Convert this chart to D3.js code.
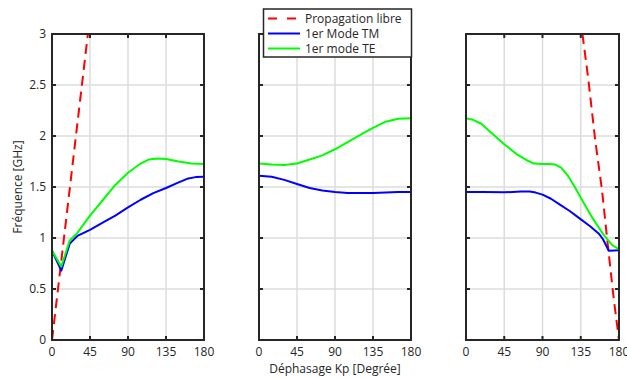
<!DOCTYPE html>
<html><head><meta charset="utf-8">
<script src="https://cdn.jsdelivr.net/npm/d3@7"></script>
<style>body{margin:0;background:#fff}svg{display:block}text{font-family:"Open Sans",sans-serif;fill:#262626}</style>
</head><body>
<script>
const xTicks = [0, 45, 90, 135, 180];
const yTicks = [0, 0.5, 1, 1.5, 2, 2.5, 3];
const seriesNames = ["Propagation libre", "1er Mode TM", "1er mode TE"];
const seriesColors = ["#ff0000", "#0000ff", "#00ff00"];

// Panel 1
const p1Free = [[0,0],[42.5,3]];
const p1TM = [[0,0.875],[11,0.68],[21,0.945],[30,1.02],[45,1.08],[60,1.15],[75,1.22],[90,1.30],[105,1.375],[120,1.44],[135,1.49],[150,1.545],[160,1.58],[170,1.597],[180,1.60]];
const p1TE = [[0,0.875],[11,0.72],[21,0.975],[30,1.05],[45,1.22],[60,1.37],[75,1.52],[90,1.64],[105,1.73],[115,1.77],[125,1.78],[135,1.775],[150,1.75],[165,1.73],[180,1.725]];
// Panel 2
const p2TM = [[0,1.61],[15,1.60],[30,1.57],[45,1.53],[60,1.49],[75,1.465],[90,1.45],[105,1.44],[120,1.44],[135,1.44],[150,1.445],[165,1.45],[180,1.45]];
const p2TE = [[0,1.73],[15,1.72],[30,1.715],[45,1.73],[60,1.77],[75,1.81],[90,1.87],[105,1.94],[120,2.01],[135,2.08],[150,2.14],[165,2.17],[180,2.175]];
// Panel 3
const p3Free = [[137,3],[144,2.55],[152,1.96],[160,1.47],[166.6,0.95],[173.6,0.42],[180,0]];
const p3TM = [[0,1.45],[20,1.45],[45,1.448],[65,1.455],[75,1.455],[82,1.445],[90,1.425],[100,1.385],[110,1.33],[122,1.265],[134,1.19],[146,1.115],[156,1.045],[161,0.99],[168,0.875],[175,0.878],[180,0.88]];
const p3TE = [[0,2.175],[8,2.16],[18,2.12],[30,2.03],[45,1.92],[60,1.82],[72,1.76],[80,1.73],[90,1.725],[98,1.725],[105,1.72],[112,1.69],[120,1.61],[128,1.50],[136,1.38],[150,1.18],[162,1.03],[172,0.93],[180,0.89]];

const panels = [
  {x0:52, x1:204, free:p1Free, tm:p1TM, te:p1TE, ylabels:true},
  {x0:259, x1:411, free:null, tm:p2TM, te:p2TE, ylabels:false},
  {x0:466, x1:619, free:p3Free, tm:p3TM, te:p3TE, ylabels:false}
];
const W = 627, H = 378, yTop = 34, yBot = 340;
const svg = d3.select("body").append("svg").attr("width", W).attr("height", H);
const y = d3.scaleLinear().domain([0,3]).range([yBot, yTop]);

panels.forEach((p, i) => {
  const x = d3.scaleLinear().domain([0,180]).range([p.x0, p.x1]);
  const g = svg.append("g");
  g.selectAll(".gx").data(xTicks.slice(1,-1)).join("line")
    .attr("x1", d=>x(d)).attr("x2", d=>x(d)).attr("y1", yTop).attr("y2", yBot)
    .attr("stroke", "#dcdcdc").attr("stroke-width", 1.5);
  g.selectAll(".gy").data(yTicks.slice(1,-1)).join("line")
    .attr("y1", d=>y(d)).attr("y2", d=>y(d)).attr("x1", p.x0).attr("x2", p.x1)
    .attr("stroke", "#dcdcdc").attr("stroke-width", 1.5);
  const clipId = "clip"+i;
  svg.append("clipPath").attr("id", clipId).append("rect")
    .attr("x", p.x0).attr("y", yTop).attr("width", p.x1-p.x0).attr("height", yBot-yTop);
  const line = d3.line().x(d=>x(d[0])).y(d=>y(d[1]));
  const lg = g.append("g").attr("clip-path", `url(#${clipId})`);
  if (p.free) lg.append("path").attr("d", line(p.free)).attr("fill","none")
    .attr("stroke", seriesColors[0]).attr("stroke-width", 2).attr("stroke-dasharray", "10,6");
  lg.append("path").attr("d", line(p.tm)).attr("fill","none").attr("stroke", seriesColors[1]).attr("stroke-width", 2).attr("stroke-linejoin","round");
  lg.append("path").attr("d", line(p.te)).attr("fill","none").attr("stroke", seriesColors[2]).attr("stroke-width", 2).attr("stroke-linejoin","round");
  const tl = 4;
  xTicks.forEach(t => {
    g.append("line").attr("x1", x(t)).attr("x2", x(t)).attr("y1", yBot).attr("y2", yBot-tl).attr("stroke","#262626").attr("stroke-width",2);
    g.append("line").attr("x1", x(t)).attr("x2", x(t)).attr("y1", yTop).attr("y2", yTop+tl).attr("stroke","#262626").attr("stroke-width",2);
    g.append("text").attr("x", x(t)).attr("y", 356).attr("text-anchor","middle").attr("font-size", 12).text(t);
  });
  yTicks.forEach(t => {
    g.append("line").attr("x1", p.x0).attr("x2", p.x0+tl).attr("y1", y(t)).attr("y2", y(t)).attr("stroke","#262626").attr("stroke-width",2);
    g.append("line").attr("x1", p.x1).attr("x2", p.x1-tl).attr("y1", y(t)).attr("y2", y(t)).attr("stroke","#262626").attr("stroke-width",2);
    if (p.ylabels) g.append("text").attr("x", p.x0-6).attr("y", y(t)+4).attr("text-anchor","end").attr("font-size", 12).text(t);
  });
  g.append("rect").attr("x", p.x0).attr("y", yTop).attr("width", p.x1-p.x0).attr("height", yBot-yTop)
    .attr("fill","none").attr("stroke","#262626").attr("stroke-width",2);
});

svg.append("text").attr("transform", `translate(22,${(yTop+yBot)/2}) rotate(-90)`)
  .attr("text-anchor","middle").attr("font-size", 12).text("Fréquence [GHz]");
svg.append("text").attr("x", 335).attr("y", 373).attr("text-anchor","middle").attr("font-size", 12).text("Déphasage Kp [Degrée]");

const leg = svg.append("g");
leg.append("rect").attr("x", 263.5).attr("y", 9).attr("width", 148).attr("height", 48)
  .attr("fill","#fff").attr("stroke","#262626").attr("stroke-width",1.5);
seriesNames.forEach((n, i) => {
  const ly = 18.5 + i*15;
  leg.append("line").attr("x1", 268).attr("x2", 300).attr("y1", ly).attr("y2", ly)
    .attr("stroke", seriesColors[i]).attr("stroke-width", 2)
    .attr("stroke-dasharray", i===0 ? "9,10" : null);
  leg.append("text").attr("x", 305).attr("y", ly+4).attr("font-size", 12).text(n);
});
</script>
</body></html>
